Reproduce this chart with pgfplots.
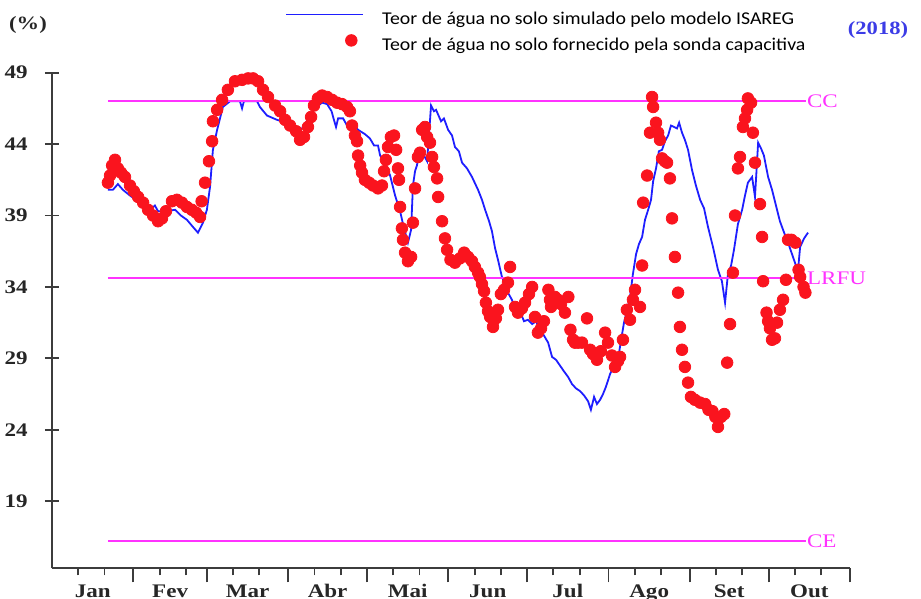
\documentclass[border=0pt]{standalone}
\usepackage{pgfplots}
\pgfplotsset{compat=1.18}
\usepackage{fontspec}
\setmainfont{Liberation Serif}
\newfontfamily\legfont[FakeStretch=1.1]{Carlito}
\newfontfamily\tickfont[FakeStretch=1.2]{Liberation Serif}
\definecolor{simblue}{RGB}{30,30,255}
\definecolor{dotred}{RGB}{250,20,30}
\definecolor{refmag}{RGB}{255,50,255}
\definecolor{yearblue}{RGB}{60,60,230}
\definecolor{spine}{RGB}{60,60,60}
\begin{document}
\begin{tikzpicture}
\useasboundingbox (-26bp,-15.35bp) rectangle (434.5bp,284.15bp);
\begin{axis}[
  at={(0,0)}, anchor=south west,
  scale only axis, width=399bp, height=247.8bp,
  xmin=0, xmax=304, ymin=14.3, ymax=49,
  axis lines*=left, axis line style={-, spine, line width=0.9bp},
  clip=false,
  /pgf/number format/assume math mode=true,
  ytick={19,24,29,34,39,44,49},
  ytick align=center,
  xtick={31,59,90,120,151,181,212,243,273,304},
  xticklabels={},
  xtick align=outside,
  minor xtick={10,20,41,51,69,79,100,110,130,140,161,171,191,201,222,232,253,263,283,293},
  major tick length=7bp, minor tick length=3.5bp,
  tick style={spine, line width=0.9bp},
  extra x ticks={15.5,45,74.5,105,135.5,166,196.5,227.5,258,288.5},
  extra x tick labels={Jan,Fev,Mar,Abr,Mai,Jun,Jul,Ago,Set,Out},
  extra x tick style={major tick length=0pt, tick style={draw=none}},
  tick label style={font=\tickfont\bfseries\fontsize{9.6bp}{11bp}\selectfont, text=black!85},
  yticklabel style={anchor=east, inner sep=0pt, xshift=-8.5bp},
  xticklabel style={anchor=base, inner sep=0pt, yshift=-14.35bp},
  legend style={at={(0.292,1.1305)}, anchor=north west, draw=none, fill=none,
    inner sep=0pt, row sep=2bp, column sep=8bp,
    font=\legfont\fontsize{9bp}{11bp}\selectfont,
    nodes={inner sep=1bp, text height=7bp, text depth=2bp}},
  legend cell align=left,
]
\addplot[simblue, line width=0.9bp, mark=none,
  legend image code/.code={\draw[simblue, line width=0.9bp] (0bp,2.5bp) -- (38.5bp,2.5bp);}]
coordinates {
(21.3,40.8)(23.2,40.8)(25.1,41.2)(27.0,40.8)(29.7,40.4)(33.5,39.9)(37.3,39.4)(39.2,39.7)(40.4,39.3)
(43.0,39.3)(46.9,39.4)(49.1,39.0)(51.4,38.7)(53.7,38.2)(55.6,37.8)(57.5,38.5)(59.0,39.4)(60.2,41.0)
(61.3,43.6)(62.9,45.0)(65.1,46.6)(67.8,47.0)(71.6,47.0)(72.4,46.5)(73.1,47.0)(78.1,47.0)(79.2,46.6)
(81.9,46.0)(85.7,45.7)(89.5,45.5)(91.4,45.5)(94.5,44.9)(96.4,45.4)(98.3,46.0)(100.6,46.6)(102.9,46.9)
(104.8,46.8)(106.5,46.3)(107.4,45.7)(108.2,45.2)(109.0,45.8)(110.9,45.8)(112.4,45.3)(114.3,45.5)
(116.6,45.0)(119.2,44.7)(121.1,44.4)(122.7,43.9)(124.2,43.9)(125.0,43.2)(126.9,42.7)(128.8,41.8)
(130.7,40.4)(132.6,39.3)(134.1,38.1)(135.6,37.1)(136.8,38.0)(137.5,41.1)(138.3,42.1)(139.0,42.5)
(140.2,43.6)(141.7,43.2)(142.9,42.8)(143.2,43.6)(144.4,46.7)(145.5,46.3)(146.3,46.4)(148.2,45.6)
(149.3,45.8)(150.9,45.0)(152.4,44.6)(153.5,43.8)(155.0,43.5)(156.2,42.7)(158.1,42.3)(160.0,41.7)
(162.3,40.8)(163.8,40.1)(165.0,39.4)(166.5,38.6)(167.6,37.9)(168.8,36.7)(169.9,35.9)(171.4,34.7)
(172.6,34.2)(173.7,33.6)(175.2,33.1)(176.4,32.5)(177.5,31.9)(178.7,32.1)(179.8,31.6)(181.3,31.7)
(182.9,31.4)(184.4,31.6)(185.9,31.0)(187.4,30.6)(189.0,30.1)(190.5,29.1)(192.0,28.9)(193.5,28.5)
(195.0,28.1)(196.6,27.7)(198.1,27.2)(199.6,26.9)(201.2,26.7)(202.7,26.4)(204.2,26.0)(205.3,25.4)
(206.5,26.3)(207.6,25.8)(208.8,26.1)(209.9,26.5)(211.0,27.0)(212.6,27.9)(214.1,28.5)(215.6,28.9)
(216.8,30.3)(217.9,31.5)(219.0,32.3)(220.2,33.3)(221.3,34.9)(222.5,36.3)(223.6,37.0)(224.8,37.5)
(225.9,38.7)(227.1,39.4)(228.2,40.1)(229.0,41.4)(230.1,42.3)(231.2,43.5)(232.4,43.6)(233.5,44.2)
(234.7,44.6)(235.8,45.3)(237.0,45.2)(238.1,45.1)(238.9,45.5)(240.0,44.8)(241.1,44.3)(242.3,43.6)
(243.8,42.2)(245.3,41.1)(246.9,40.1)(248.4,39.5)(249.9,38.2)(251.8,36.8)(253.7,35.2)(255.2,34.4)
(256.4,32.9)(257.5,34.9)(258.7,35.5)(259.8,36.6)(261.3,38.4)(262.9,39.4)(264.0,40.4)(265.1,41.3)
(266.7,41.7)(267.8,40.3)(269.0,44.1)(270.1,43.7)(271.2,43.2)(272.8,41.7)(274.3,40.8)(275.8,39.7)
(277.3,38.6)(278.9,37.8)(280.4,37.1)(281.9,36.3)(283.4,35.5)(284.2,35.2)(285.0,36.8)(286.5,37.4)(288.0,37.8)
};
\addlegendentry{Teor de água no solo simulado pelo modelo ISAREG}
\addplot[only marks, mark=*, mark size=2.9bp, draw=dotred, fill=dotred,
  legend image code/.code={\draw[only marks, mark=*, mark size=2.9bp, draw=dotred, fill=dotred] plot coordinates {(32.5bp,2.5bp)};}]
coordinates {
(21.3,41.3)(22.1,41.8)(22.9,42.5)(24.0,42.9)(25.1,42.3)(26.3,42.0)(27.8,41.7)(29.7,41.1)(31.2,40.7)
(32.8,40.3)(34.7,39.9)(36.6,39.4)(38.5,39.0)(40.4,38.6)(41.9,38.8)(43.4,39.3)(45.7,40.0)(47.6,40.1)
(49.5,39.9)(51.4,39.6)(53.3,39.4)(54.9,39.2)(56.4,38.9)(57.0,40.0)(58.3,41.3)(59.8,42.8)(61.0,44.2)
(61.3,45.6)(62.9,46.4)(64.8,47.1)(67.0,47.8)(69.7,48.4)(72.4,48.5)(74.7,48.6)(76.6,48.6)(78.5,48.4)
(80.4,47.8)(82.3,47.3)(85.0,46.7)(86.9,46.3)(88.8,45.7)(90.7,45.3)(93.0,44.9)(94.5,44.3)(96.0,44.5)
(97.5,45.2)(98.7,45.9)(99.8,46.7)(101.3,47.2)(102.9,47.4)(104.8,47.3)(106.7,47.1)(108.6,46.9)
(110.5,46.8)(112.4,46.6)(113.5,46.3)(114.3,45.3)(115.4,44.6)(116.2,44.2)(116.6,43.2)(117.4,42.5)
(118.1,42.0)(119.2,41.5)(120.8,41.3)(122.3,41.1)(124.2,40.9)(125.7,41.1)(126.5,42.1)(127.2,42.9)
(128.0,43.8)(129.1,44.5)(130.3,44.6)(131.1,43.6)(131.8,42.3)(132.2,41.5)(132.6,39.6)(133.3,38.1)
(133.7,37.3)(134.5,36.4)(135.6,35.8)(136.8,36.1)(137.5,38.5)(138.3,40.9)(139.4,43.1)(140.2,43.4)
(141.0,45.0)(142.1,45.2)(142.9,44.5)(144.0,44.1)(144.8,43.1)(145.5,42.4)(146.7,41.6)(147.1,40.3)
(148.6,38.6)(149.7,37.4)(150.5,36.6)(151.8,35.9)(153.5,35.7)(155.4,36.0)(157.0,36.4)(158.5,36.1)
(160.0,35.8)(161.1,35.4)(162.3,35.0)(163.0,34.7)(163.8,34.2)(164.6,33.7)(165.3,32.9)(166.1,32.3)
(166.9,31.9)(168.0,31.2)(169.1,31.8)(169.9,32.4)(171.0,33.5)(172.2,33.8)(173.7,34.3)(174.5,35.4)
(176.4,32.6)(177.5,32.2)(179.0,32.5)(180.2,32.9)(181.7,33.5)(182.9,34.0)(184.0,31.9)(185.1,30.8)
(186.3,31.1)(187.4,31.6)(189.1,33.8)(189.7,33.1)(190.1,32.6)(191.6,33.3)(192.8,33.1)(193.9,32.8)
(195.4,32.2)(196.7,33.3)(197.5,31.0)(198.5,30.3)(199.2,30.1)(200.4,30.1)(201.9,30.1)(203.8,31.8)
(205.0,29.6)(206.1,29.3)(207.6,28.9)(209.1,29.5)(210.7,30.8)(211.8,30.1)(213.3,29.2)(214.5,28.4)
(215.6,28.8)(216.4,29.1)(217.5,30.3)(219.0,32.4)(220.2,31.7)(221.3,33.1)(222.1,33.8)(224.0,32.6)
(224.8,35.5)(225.2,39.9)(226.7,41.8)(227.8,44.8)(228.6,47.3)(229.0,46.6)(230.1,45.5)(230.9,44.8)
(231.6,44.3)(232.4,43.0)(233.5,42.8)(234.3,42.7)(235.4,41.6)(236.2,38.8)(237.3,36.1)(238.5,33.6)
(239.2,31.2)(240.0,29.6)(241.1,28.4)(242.3,27.3)(243.4,26.3)(244.9,26.1)(246.9,25.9)(248.8,25.8)
(250.1,25.4)(251.6,25.3)(252.7,24.9)(253.7,24.2)(254.9,24.9)(256.1,25.1)(257.2,28.7)(258.3,31.4)
(259.4,35.0)(260.2,39.0)(261.3,42.3)(262.1,43.1)(263.2,45.2)(264.0,45.8)(264.8,46.4)(265.1,47.2)
(266.3,46.9)(267.0,44.8)(267.8,42.7)(269.7,39.8)(270.5,37.5)(270.9,34.4)(272.2,32.2)(272.8,31.6)
(273.5,31.1)(274.3,30.3)(275.4,30.4)(276.2,31.5)(277.3,32.4)(278.5,33.1)(279.6,34.5)(280.4,37.3)
(281.7,37.3)(283.2,37.1)(284.4,35.2)(285.0,34.7)(286.3,34.0)(287.0,33.6)
};
\addlegendentry{Teor de água no solo fornecido pela sonda capacitiva}
\addplot[refmag, line width=1bp, mark=none, forget plot] coordinates {(21.3,47.0)(287.2,47.0)};
\addplot[refmag, line width=1bp, mark=none, forget plot] coordinates {(21.3,34.6)(287.2,34.6)};
\addplot[refmag, line width=1bp, mark=none, forget plot] coordinates {(21.3,16.2)(287.2,16.2)};
\node[anchor=west, inner sep=0pt, text=refmag, font=\tickfont\fontsize{9.6bp}{11bp}\selectfont] at (axis cs:287.5,47.0) {CC};
\node[anchor=west, inner sep=0pt, text=refmag, font=\tickfont\fontsize{9.6bp}{11bp}\selectfont] at (axis cs:287.5,34.6) {LRFU};
\node[anchor=west, inner sep=0pt, text=refmag, font=\tickfont\fontsize{9.6bp}{11bp}\selectfont] at (axis cs:287.5,16.2) {CE};
\end{axis}
\node[font=\tickfont\bfseries\fontsize{9.4bp}{11bp}\selectfont, text=black!85] at (-12bp,271.6bp) {(\%)};
\node[font=\tickfont\bfseries\fontsize{9.4bp}{11bp}\selectfont, text=yearblue] at (413bp,269.2bp) {(2018)};
\end{tikzpicture}
\end{document}
